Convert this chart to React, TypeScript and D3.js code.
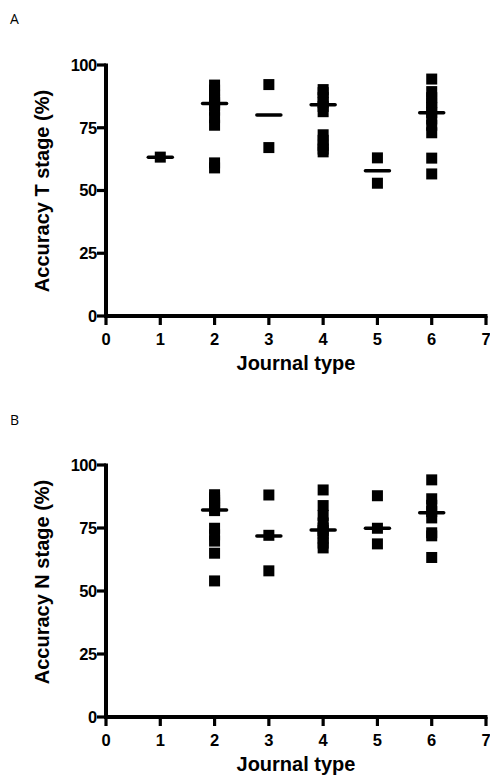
import React from "react";
import * as d3 from "d3";

const xTicks = [0, 1, 2, 3, 4, 5, 6, 7];
const yTicks = [0, 25, 50, 75, 100];

// Panel A: Accuracy T stage
const tJournal = [1, 2, 2, 2, 2, 2, 2, 2, 2, 2, 2, 2, 3, 3, 4, 4, 4, 4, 4, 4, 4, 4, 4, 4, 4, 5, 5, 6, 6, 6, 6, 6, 6, 6, 6, 6, 6, 6];
const tAccuracy = [63.3, 92, 90, 88, 86, 85, 84, 82, 79, 76, 61, 59, 92.2, 67.1, 90.2, 89, 87, 85, 83.5, 81.4, 72.2, 70, 68, 66.5, 65.4, 63, 52.9, 94.4, 89.4, 87, 85, 83, 81, 78.5, 76, 73, 62.9, 56.6];
const tMedianJournal = [1, 2, 3, 4, 5, 6];
const tMedian = [63.2, 84.7, 80.1, 84.2, 57.9, 81];

// Panel B: Accuracy N stage
const nJournal = [2, 2, 2, 2, 2, 2, 2, 2, 2, 2, 2, 2, 3, 3, 3, 4, 4, 4, 4, 4, 4, 4, 4, 4, 4, 5, 5, 5, 6, 6, 6, 6, 6, 6, 6, 6];
const nAccuracy = [88.2, 87, 86, 85, 84, 83, 81.9, 74.9, 72.3, 69.8, 65, 54, 88.1, 72.1, 58, 90.1, 83.9, 80, 77, 75, 74, 73, 71, 69, 67.1, 87.8, 74.9, 68.7, 94.1, 86.6, 84, 81.5, 79, 73.1, 71.9, 63.3];
const nMedianJournal = [2, 3, 4, 5, 6];
const nMedian = [82.1, 71.8, 74.2, 74.9, 81.1];

const FONT = "'Liberation Sans', Arial, sans-serif";

type PanelProps = {
  top: number;
  bottom: number;
  label: string;
  labelY: number;
  yTitle: string;
  yTitleCenter: number;
  xs: number[];
  ys: number[];
  mx: number[];
  my: number[];
};

function Panel({ top, bottom, label, labelY, yTitle, yTitleCenter, xs, ys, mx, my }: PanelProps) {
  const x = d3.scaleLinear().domain([0, 7]).range([106, 486]);
  const y = d3.scaleLinear().domain([0, 100]).range([bottom, top]);
  const sq = 11;
  const halfMed = 12;
  return (
    <g>
      <text x={10} y={labelY} fontFamily="'Open Sans', sans-serif" fontSize={14} fill="#000">
        {label}
      </text>
      {/* axes */}
      <line x1={x(0)} x2={x(0)} y1={y(100) - 1.5} y2={y(0) + 2} stroke="#000" strokeWidth={4} />
      <line x1={x(0) - 2} x2={x(7) + 1.5} y1={y(0)} y2={y(0)} stroke="#000" strokeWidth={4} />
      {yTicks.map((t) => (
        <g key={"y" + t}>
          <line x1={x(0) - 9} x2={x(0)} y1={y(t)} y2={y(t)} stroke="#000" strokeWidth={3.2} />
          <text
            x={x(0) - 9.5}
            y={y(t)}
            dy="0.36em"
            textAnchor="end"
            fontFamily={FONT}
            fontWeight="bold"
            fontSize={16.5}
            letterSpacing={-0.6}
          >
            {t}
          </text>
        </g>
      ))}
      {xTicks.map((t) => (
        <g key={"x" + t}>
          <line x1={x(t)} x2={x(t)} y1={y(0)} y2={y(0) + 9} stroke="#000" strokeWidth={3.2} />
          <text
            x={x(t)}
            y={y(0) + 29}
            textAnchor="middle"
            fontFamily={FONT}
            fontWeight="bold"
            fontSize={16.5}
          >
            {t}
          </text>
        </g>
      ))}
      <text
        x={(x(0) + x(7)) / 2}
        y={y(0) + 54}
        textAnchor="middle"
        fontFamily={FONT}
        fontWeight="bold"
        fontSize={20}
      >
        Journal type
      </text>
      <text
        transform={`translate(49,${yTitleCenter}) rotate(-90)`}
        textAnchor="middle"
        fontFamily={FONT}
        fontWeight="bold"
        fontSize={20}
      >
        {yTitle}
      </text>
      {/* points */}
      {xs.map((j, i) => (
        <rect key={"p" + i} x={x(j) - sq / 2} y={y(ys[i]) - sq / 2} width={sq} height={sq} fill="#000" />
      ))}
      {/* medians */}
      {mx.map((j, i) => (
        <line
          key={"m" + i}
          x1={x(j) - halfMed}
          x2={x(j) + halfMed}
          y1={y(my[i])}
          y2={y(my[i])}
          stroke="#000"
          strokeWidth={3.5}
          strokeLinecap="round"
        />
      ))}
    </g>
  );
}

export default function App() {
  return (
    <svg
      width={490}
      height={779}
      style={{ position: "absolute", left: 0, top: 0, background: "#fff" }}
    >
      <rect width={490} height={779} fill="#fff" />
      <Panel
        top={65}
        bottom={316}
        label="A"
        labelY={24}
        yTitle="Accuracy T stage (%)"
        yTitleCenter={191}
        xs={tJournal}
        ys={tAccuracy}
        mx={tMedianJournal}
        my={tMedian}
      />
      <Panel
        top={465}
        bottom={717}
        label="B"
        labelY={425}
        yTitle="Accuracy N stage (%)"
        yTitleCenter={582}
        xs={nJournal}
        ys={nAccuracy}
        mx={nMedianJournal}
        my={nMedian}
      />
    </svg>
  );
}
